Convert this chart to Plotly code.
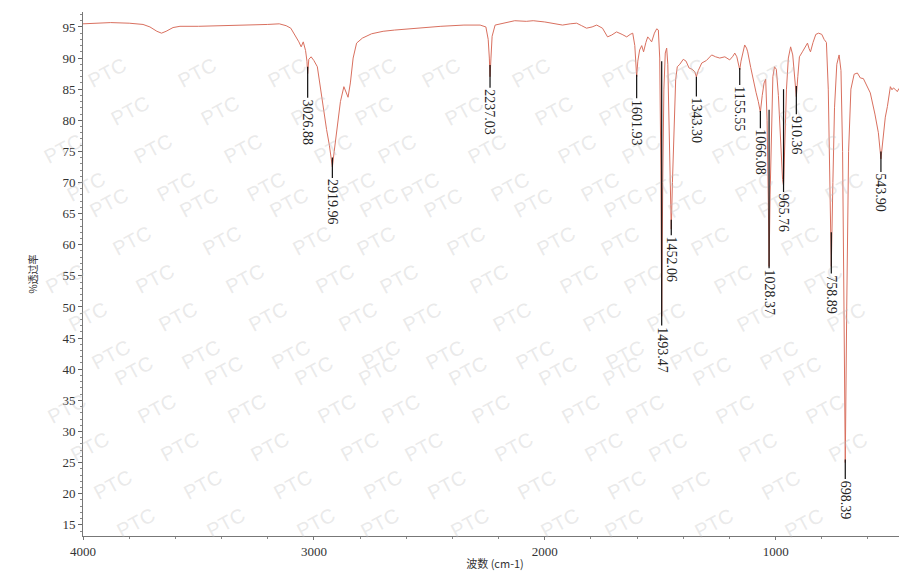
import plotly.graph_objects as go

# ---------------- data ----------------
wavenumber = [4000, 3950, 3880, 3800, 3740, 3710, 3680, 3660, 3640, 3610, 3580, 3500, 3400, 3300,
              3200, 3150, 3120, 3100, 3080, 3065, 3055, 3046, 3036, 3030, 3026.88, 3022, 3012, 3000,
              2985, 2965, 2945, 2933, 2925, 2919.96, 2912, 2900, 2885, 2870, 2860, 2852, 2842, 2830,
              2815, 2790, 2750, 2700, 2650, 2560, 2450, 2350, 2280, 2255, 2245, 2240, 2237.03, 2233,
              2228, 2215, 2180, 2130, 2080, 2050, 2000, 1960, 1923, 1890, 1862, 1840, 1819, 1795, 1775,
              1750, 1728, 1710, 1689, 1665, 1645, 1630, 1619, 1610, 1605, 1601.93, 1597, 1589, 1580,
              1572, 1562, 1554, 1545, 1537, 1525, 1515, 1508, 1502, 1497, 1493.47, 1489, 1484, 1478,
              1472, 1467, 1461, 1456, 1452.06, 1447, 1440, 1433, 1426, 1415, 1400, 1388, 1375, 1362,
              1350, 1343.30, 1335, 1320, 1300, 1277, 1260, 1242, 1220, 1199, 1185, 1177, 1168, 1160,
              1155.55, 1150, 1140, 1134, 1126, 1121, 1108, 1095, 1085, 1075, 1066.08, 1058, 1050, 1043,
              1037, 1032, 1028.37, 1024, 1018, 1012, 1005, 997, 988, 978, 970, 965.76, 960, 953, 945,
              935, 926, 918, 910.36, 904, 897, 884, 870, 862, 855, 849, 838, 826, 814, 800, 790, 780,
              772, 765, 758.89, 752, 745, 735, 725, 717, 710, 704, 698.39, 692, 684, 674, 660, 646, 633,
              620, 605, 590, 570, 555, 543.90, 535, 525, 516, 503, 496, 490, 480, 473, 466, 460, 445, 431]
transmittance = [95.5, 95.6, 95.7, 95.6, 95.4, 95.0, 94.3, 94.0, 94.3, 94.9, 95.1, 95.1, 95.2, 95.2,
                 95.4, 95.5, 95.2, 94.8, 93.6, 92.6, 91.8, 92.6, 91.2, 89.5, 87.5, 89.8, 90.2, 89.6,
                 88.6, 83.3, 78.5, 76.0, 73.5, 72.5, 75.0, 79.0, 83.0, 85.4, 84.6, 83.7, 86.0, 90.0,
                 92.4, 93.2, 93.9, 94.3, 94.5, 94.8, 95.1, 95.3, 95.3, 95.0, 93.0, 90.0, 87.0, 90.0,
                 93.5, 95.3, 95.6, 96.0, 95.9, 96.0, 95.8, 95.6, 95.3, 95.5, 95.6, 95.2, 94.8, 95.0, 95.3,
                 94.8, 93.4, 93.7, 94.2, 93.8, 93.4, 93.8, 94.0, 92.0, 89.0, 87.0, 89.5, 91.3, 92.0,
                 91.0, 92.5, 93.4, 93.0, 92.6, 94.0, 94.7, 94.5, 90.0, 72.0, 48.5, 70.0, 85.0, 90.8,
                 91.6, 89.0, 80.0, 68.0, 62.5, 70.0, 80.0, 86.5, 88.6, 89.0, 89.8, 89.5, 88.4, 88.2,
                 87.8, 87.0, 88.0, 89.2, 89.6, 90.5, 90.2, 90.0, 90.2, 89.7, 90.3, 90.8, 90.2, 89.0,
                 88.1, 89.5, 91.5, 92.1, 91.6, 91.0, 88.5, 86.0, 84.5, 83.0, 81.3, 84.0, 86.0, 86.6,
                 80.0, 68.0, 56.5, 68.0, 80.0, 87.0, 88.6, 88.2, 84.0, 76.0, 70.5, 69.5, 76.0, 85.0, 90.0,
                 91.8, 90.5, 87.0, 83.8, 87.0, 90.2, 91.0, 92.0, 92.4, 91.5, 91.0, 92.5, 93.8, 94.0, 93.8, 93.0, 92.5,
                 85.0, 70.0, 56.5, 70.0, 82.0, 89.0, 90.5, 88.0, 75.0, 50.0, 25.0, 50.0, 75.0, 85.0, 87.4, 87.6, 86.8,
                 86.7, 85.5, 84.4, 81.0, 78.0, 73.8, 76.5, 80.5, 82.2, 85.4, 84.9, 85.2, 84.9, 84.6, 85.1, 85.0, 84.8, 85.2]

peak_wn = [3026.88, 2919.96, 2237.03, 1601.93, 1493.47, 1452.06, 1343.30, 1155.55,
           1066.08, 1028.37, 965.76, 910.36, 758.89, 698.39, 543.90]
peak_labels = ["3026.88", "2919.96", "2237.03", "1601.93", "1493.47", "1452.06", "1343.30", "1155.55",
               "1066.08", "1028.37", "965.76", "910.36", "758.89", "698.39", "543.90"]
peak_head_T = [88.6, 74.0, 88.9, 87.3, 89.5, 64.0, 87.0, 88.4, 81.5, 81.7, 85.0, 85.5, 62.0, 25.5, 75.0]
peak_text_T = [79.7, 66.8, 81.3, 79.6, 43.1, 57.6, 79.9, 81.8, 74.8, 52.3, 65.1, 77.6, 52.0, 19.0, 68.3]

x_ticks = [4000, 3000, 2000, 1000]
y_ticks = list(range(15, 100, 5))

# ---------------- figure ----------------
# the page body has an 8px margin, so the figure is 8px smaller than the window
OFF = 8
W, H = 907 - OFF, 573 - OFF
ML, MR, MT, MB = 83 - OFF, 0, 12 - OFF, 37
PW, PH = W - ML - MR, H - MT - MB

fig = go.Figure()
fig.add_trace(go.Scatter(x=wavenumber, y=transmittance, mode="lines",
                         line=dict(color="#d9705f", width=1), hoverinfo="skip", showlegend=False))

annotations = []
# faint "PTC" watermark grid (page-pixel pattern)
for j in range(-7, 11):
    for i in range(-3, 12):
        px = 173 + 23 * j + 90 * i - OFF
        py = 203 + 38 * j - OFF
        if 28 < px < W - 28 and 18 < py < H - 18:
            annotations.append(dict(
                x=(px - ML) / PW, y=(MT + PH - py) / PH, xref="paper", yref="paper",
                text="PTC", showarrow=False, textangle=-28,
                font=dict(family="Liberation Sans, Arial", size=20, color="rgba(190,190,190,0.33)"),
            ))

for wn, lab, hT, tT in zip(peak_wn, peak_labels, peak_head_T, peak_text_T):
    annotations.append(dict(
        x=wn, y=hT, xref="x", yref="y", ax=wn, ay=tT, axref="x", ayref="y",
        text=lab, textangle=90, showarrow=True, arrowhead=0, arrowwidth=1.2,
        arrowcolor="#111111", standoff=0, startstandoff=0,
        font=dict(family="Liberation Serif, Times New Roman, serif", size=14, color="#222222"),
    ))

fig.update_layout(
    width=W, height=H,
    margin=dict(l=ML, r=MR, t=MT, b=MB),
    paper_bgcolor="white", plot_bgcolor="white",
    annotations=annotations,
    showlegend=False,
)
fig.update_xaxes(
    range=[4000, 431], tickvals=x_ticks, ticktext=[str(v) for v in x_ticks],
    showgrid=False, zeroline=False, showline=True, linecolor="#777777", linewidth=1,
    ticks="outside", ticklen=3, tickcolor="#777777",
    minor=dict(dtick=200, tick0=0, ticks="outside", ticklen=2, tickcolor="#888888"),
    tickfont=dict(family="Liberation Serif, Times New Roman, serif", size=13, color="#333333"),
    title=dict(text="波数 (cm-1)", standoff=2,
               font=dict(family="Noto Sans CJK SC", size=11, color="#333333")),
    automargin=False,
)
fig.update_yaxes(
    range=[13.2, 97.4], tickvals=y_ticks,
    showgrid=False, zeroline=False, showline=True, linecolor="#777777", linewidth=1,
    ticks="outside", ticklen=4, tickcolor="#666666",
    minor=dict(dtick=1, tick0=0, ticks="outside", ticklen=2, tickcolor="#888888"),
    tickfont=dict(family="Liberation Serif, Times New Roman, serif", size=13, color="#333333"),
    title=dict(text="%透过率", standoff=22,
               font=dict(family="Noto Sans CJK SC", size=10, color="#333333")),
    automargin=False,
)

fig.write_html("out.html")
